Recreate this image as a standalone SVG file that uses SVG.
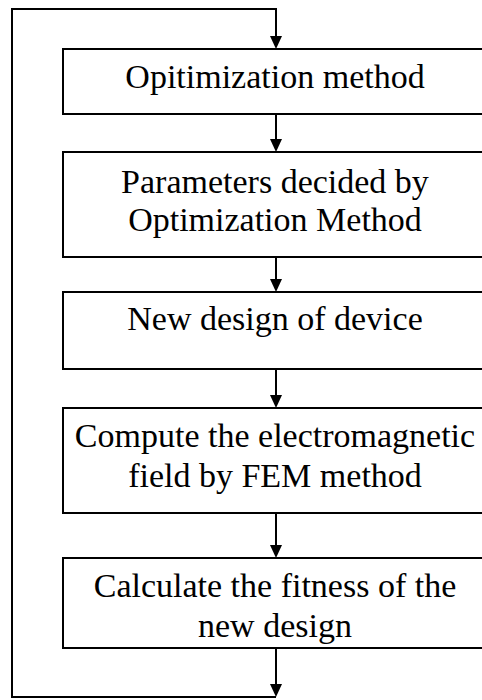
<svg xmlns="http://www.w3.org/2000/svg" width="482" height="700" viewBox="0 0 482 700">
  <defs>
    <style>
      .box { fill: #fff; stroke: #000; stroke-width: 2; }
      .lbl { font-family: "Liberation Serif", "Times New Roman", serif; font-size: 34px; fill: #000; text-anchor: middle; }
      .wire { fill: none; stroke: #000; stroke-width: 2; }
      .head { fill: #000; }
    </style>
  </defs>
  <rect width="482" height="700" fill="#fff"/>

  <g id="connectors">
    <!-- feedback loop back to the top -->
    <polyline class="wire" points="276,697 12,697 12,9 276,9 276,36"/>
    <path class="head" d="M270,36 L282,36 L276,49 Z"/>
    <!-- forward arrows between steps -->
    <line class="wire" x1="276" y1="114" x2="276" y2="139"/>
    <path class="head" d="M270,139 L282,139 L276,152 Z"/>
    <line class="wire" x1="276" y1="257" x2="276" y2="279"/>
    <path class="head" d="M270,279 L282,279 L276,292 Z"/>
    <line class="wire" x1="276" y1="369" x2="276" y2="395"/>
    <path class="head" d="M270,395 L282,395 L276,408 Z"/>
    <line class="wire" x1="276" y1="513" x2="276" y2="545"/>
    <path class="head" d="M270,545 L282,545 L276,558 Z"/>
    <line class="wire" x1="276" y1="648" x2="276" y2="684"/>
    <path class="head" d="M270,684 L282,684 L276,697 Z"/>
  </g>

  <g id="opt-method">
    <rect class="box" x="63" y="49" width="422" height="65"/>
    <text class="lbl" x="275" y="88">Opitimization method</text>
  </g>

  <g id="parameters">
    <rect class="box" x="63" y="152" width="422" height="105"/>
    <text class="lbl" x="275" y="193">Parameters decided by</text>
    <text class="lbl" x="275" y="231">Optimization Method</text>
  </g>

  <g id="new-design">
    <rect class="box" x="63" y="292" width="422" height="77"/>
    <text class="lbl" x="275" y="330">New design of device</text>
  </g>

  <g id="fem">
    <rect class="box" x="63" y="408" width="422" height="105"/>
    <text class="lbl" x="275" y="447">Compute the electromagnetic</text>
    <text class="lbl" x="275" y="487">field by FEM method</text>
  </g>

  <g id="fitness">
    <rect class="box" x="63" y="558" width="422" height="90"/>
    <text class="lbl" x="275" y="597">Calculate the fitness of the</text>
    <text class="lbl" x="275" y="637">new design</text>
  </g>
</svg>
